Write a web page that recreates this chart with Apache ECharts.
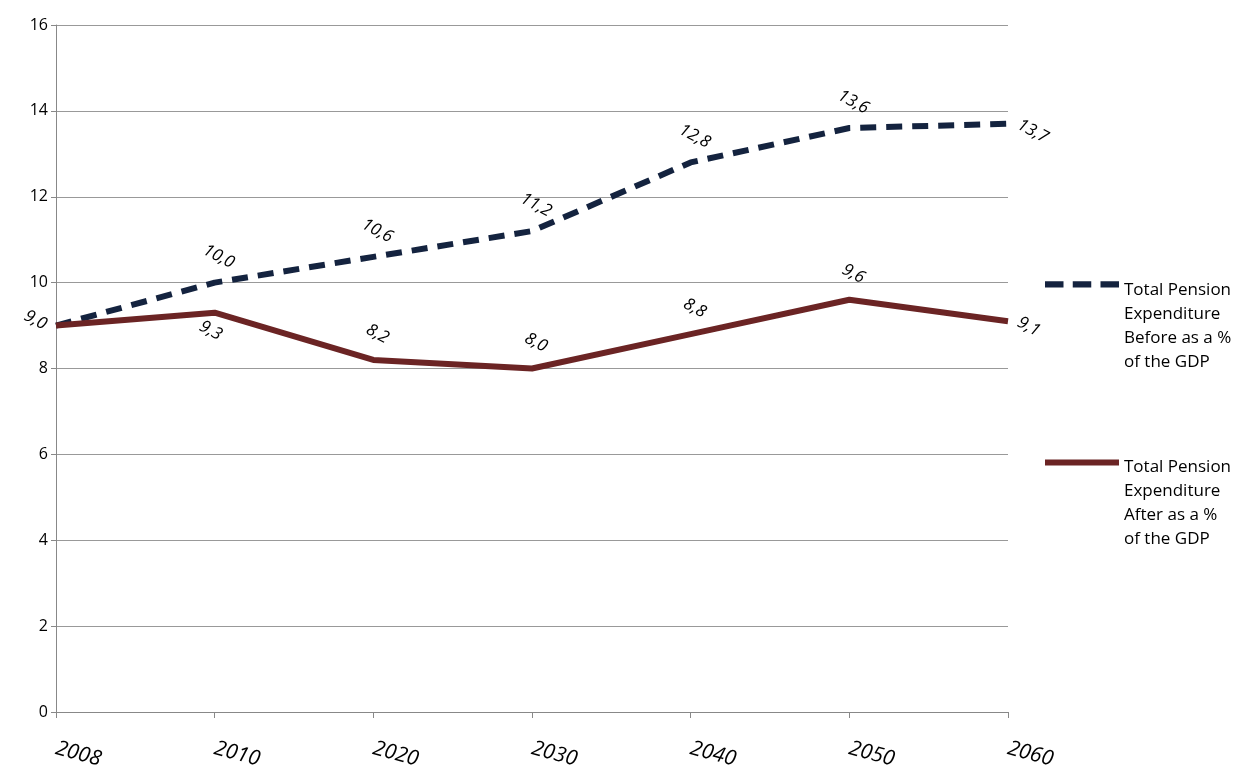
<!DOCTYPE html>
<html>
<head>
<meta charset="utf-8">
<script src="https://cdn.jsdelivr.net/npm/echarts@6/dist/echarts.min.js"></script>
<style>html,body{margin:0;padding:0;background:#fff}#main{width:1245px;height:776px}</style>
</head>
<body>
<div id="main"></div>
<script>
var years = ['2008', '2010', '2020', '2030', '2040', '2050', '2060'];
var before = [9.0, 10.0, 10.6, 11.2, 12.8, 13.6, 13.7];
var after = [9.0, 9.3, 8.2, 8.0, 8.8, 9.6, 9.1];
var beforePos = [null, 'top', 'top', 'top', 'top', 'top', 'right'];
var afterPos = ['left', 'bottom', 'top', 'top', 'top', 'top', 'right'];
var names = ['Total Pension\nExpenditure\nBefore as a %\nof the GDP', 'Total Pension\nExpenditure\nAfter as a %\nof the GDP'];

var myChart = echarts.init(document.getElementById('main'));
function items(vals, pos) {
	return vals.map(function (v, i) {
		return { value: v, label: pos[i] ? { position: pos[i], distance: pos[i] == 'top' ? 18 : 10 } : { show: false } };
	});
}
var lbl = {
	show: true,
	rotate: -28,
	fontStyle: 'italic',
	fontSize: 17,
	color: '#000',
	fontFamily: 'Open Sans',
	formatter: function (p) { return p.value.toFixed(1).replace('.', ','); }
};
function leg(i, top, icon, color) {
	return {
		orient: 'vertical',
		left: 1040,
		top: top,
		itemWidth: 74,
		itemHeight: 96,
		textStyle: { fontSize: 17, fontFamily: 'Open Sans', color: '#000', lineHeight: 24 },
		data: [{ name: names[i], icon: icon, itemStyle: { color: color, opacity: 1, borderWidth: 0 } }]
	};
}
var dashIcon = 'path://M0,9h18v6h-18zM27,9h18v6h-18zM54,9h18v6h-18zM0,96L0.01,96z';
var solidIcon = 'path://M0,9h74v6h-74zM0,96L0.01,96z';
var option = {
	animation: false,
	grid: { left: 56, right: 237, top: 25, bottom: 64 },
	legend: [leg(0, 273, dashIcon, '#14233f'), leg(1, 450, solidIcon, '#6b2424')],
	xAxis: {
		type: 'category',
		boundaryGap: false,
		data: years,
		axisLine: { lineStyle: { color: '#888' } },
		axisTick: { show: true, length: 6, lineStyle: { color: '#888' } },
		axisLabel: { fontSize: 21, fontStyle: 'italic', rotate: -15, color: '#000', margin: 36, fontFamily: 'Open Sans' }
	},
	yAxis: {
		type: 'value',
		min: 0, max: 16, interval: 2,
		axisLine: { show: true, lineStyle: { color: '#888' } },
		axisTick: { show: true, lineStyle: { color: '#888' } },
		splitLine: { lineStyle: { color: '#999' } },
		axisLabel: { fontSize: 16, color: '#000', fontFamily: 'Open Sans' }
	},
	series: [{
		name: names[0],
		type: 'line',
		data: items(before, beforePos),
		symbol: 'circle',
		symbolSize: 1,
		showAllSymbol: true,
		itemStyle: { color: 'rgba(0,0,0,0)' },
		lineStyle: { width: 6, type: [16, 10], color: '#14233f' },
		label: lbl
	}, {
		name: names[1],
		type: 'line',
		data: items(after, afterPos),
		symbol: 'circle',
		symbolSize: 1,
		showAllSymbol: true,
		itemStyle: { color: 'rgba(0,0,0,0)' },
		lineStyle: { width: 6, color: '#6b2424' },
		label: lbl
	}]
};
myChart.setOption(option);
</script>
</body>
</html>
